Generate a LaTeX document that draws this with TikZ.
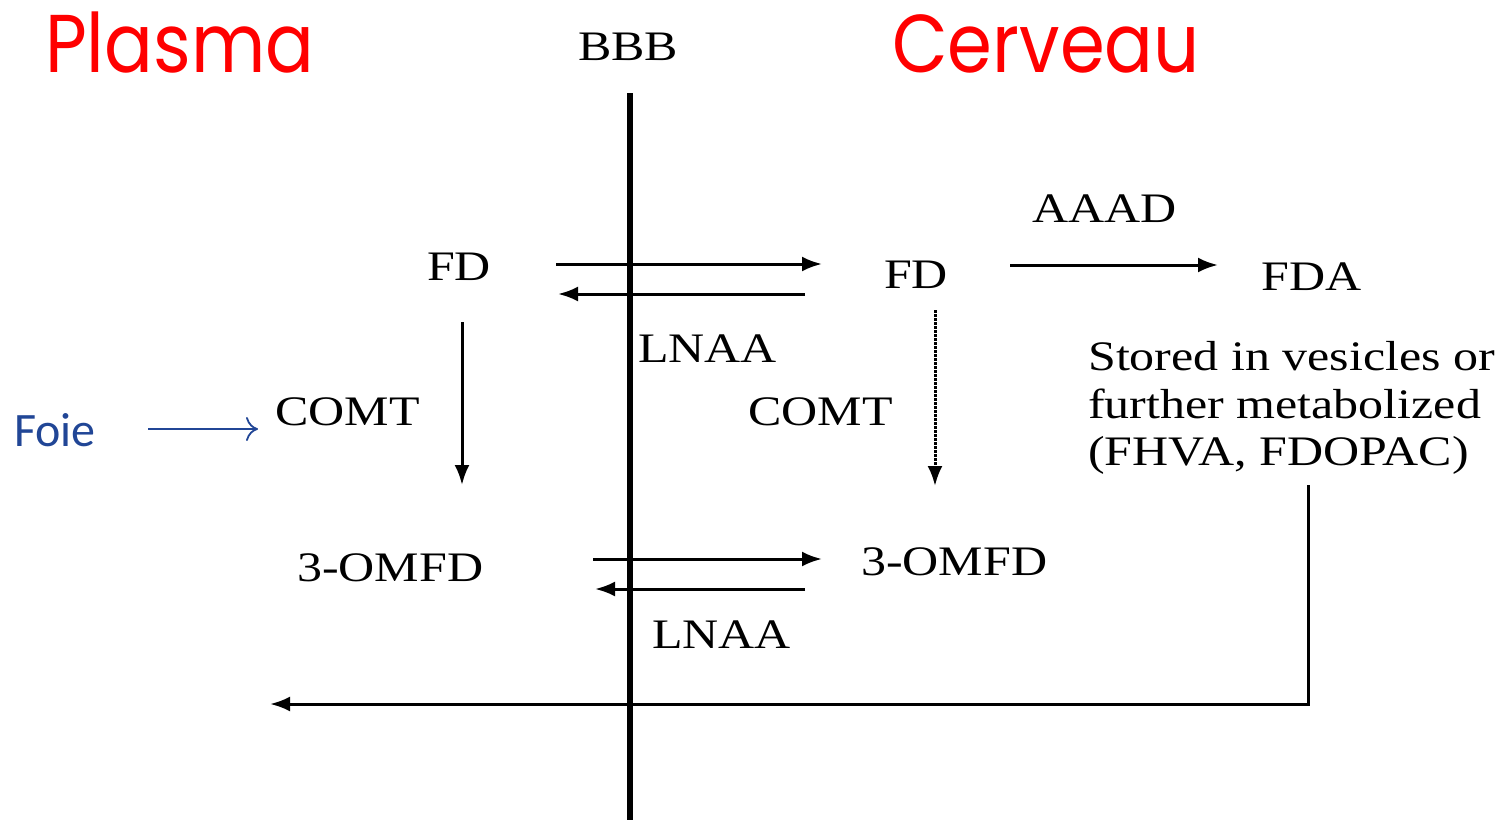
\documentclass[tikz,border=0pt]{standalone}
\usepackage{fontspec}
\setmainfont{Liberation Serif}
\newfontfamily\titlefont{Poppins}
\newfontfamily\foiefont{Carlito}
\usetikzlibrary{arrows.meta}
\definecolor{titlered}{RGB}{255,0,0}
\definecolor{foieblue}{RGB}{33,70,150}
\newcommand{\sx}[1]{\scalebox{1.19}[1]{#1}}
\newcommand{\tx}[1]{\scalebox{0.88}[1]{#1}}
\tikzset{
  lbl/.style={anchor=base west, inner sep=0pt, font=\fontsize{42}{47}\selectfont},
  ttl/.style={anchor=base west, inner sep=0pt, text=titlered, font=\titlefont\fontsize{82}{90}\selectfont},
  arr/.style={line width=3pt, -{Latex[length=20pt,width=15pt]}},
  barrier/.style={line width=6pt},
}
\begin{document}
\begin{tikzpicture}[x=1pt,y=-1pt]
\useasboundingbox (0,0) rectangle (1505,820);
% titles
\node[ttl] (plasma) at (45,72) {\tx{Plasma}};
\node[ttl] (cerveau) at (892,72) {\tx{Cerveau}};
\node[lbl] (bbb) at (578,60) {\sx{BBB}};
% barrier
\coordinate (btop) at (630,93);
\coordinate (bbot) at (630,820);
\draw[barrier] (btop) -- (bbot);
% labels
\node[lbl] (fdL) at (427,280) {\sx{FD}};
\node[lbl] (fdR) at (884,288) {\sx{FD}};
\node[lbl] (fda) at (1261,290) {\sx{FDA}};
\node[lbl] (aaad) at (1032,222) {\sx{AAAD}};
\node[lbl] (lnaa1) at (638,362) {\sx{LNAA}};
\node[lbl] (comtL) at (275,425) {\sx{COMT}};
\node[lbl] (comtR) at (748,425) {\sx{COMT}};
\node[lbl] (omfdL) at (297,581) {\sx{3-OMFD}};
\node[lbl] (omfdR) at (861,575) {\sx{3-OMFD}};
\node[lbl] (lnaa2) at (652,648) {\sx{LNAA}};
\node[lbl] (st1) at (1088,370) {\sx{Stored in vesicles or}};
\node[lbl] (st2) at (1088,418) {\sx{further metabolized}};
\node[lbl] (st3) at (1088,465) {\sx{(FHVA, FDOPAC)}};
\node[anchor=base west, inner sep=0pt, text=foieblue, font=\foiefont\fontsize{48}{54}\selectfont] (foie) at (14,446) {Foie};
% connector coordinates
\coordinate (a1s) at (556,264); \coordinate (a1e) at (822,264);
\coordinate (a2s) at (805,294); \coordinate (a2e) at (558,294);
\coordinate (a3s) at (1010,265); \coordinate (a3e) at (1218,265);
\coordinate (v1s) at (462,322); \coordinate (v1e) at (462,485);
\coordinate (v2s) at (935,310); \coordinate (v2e) at (935,486);
\coordinate (a4s) at (593,559); \coordinate (a4e) at (822,559);
\coordinate (a5s) at (805,589); \coordinate (a5e) at (595,589);
\coordinate (rs) at (1308,485); \coordinate (rc) at (1308,704); \coordinate (re) at (270,704);
\coordinate (fs) at (148,429); \coordinate (fe) at (258,429);
% connectors
\draw[arr] (a1s) -- (a1e);
\draw[arr] (a2s) -- (a2e);
\draw[arr] (a3s) -- (a3e);
\draw[arr] (v1s) -- (v1e);
\draw[arr, dash pattern=on 2.5pt off 1.5pt] (v2s) -- (v2e);
\draw[arr] (a4s) -- (a4e);
\draw[arr] (a5s) -- (a5e);
\draw[arr] (rs) -- (rc) -- (re);
\draw[foieblue, line width=1.8pt, -{To[length=12pt,width=24pt]}] (fs) -- (fe);
\end{tikzpicture}
\end{document}
